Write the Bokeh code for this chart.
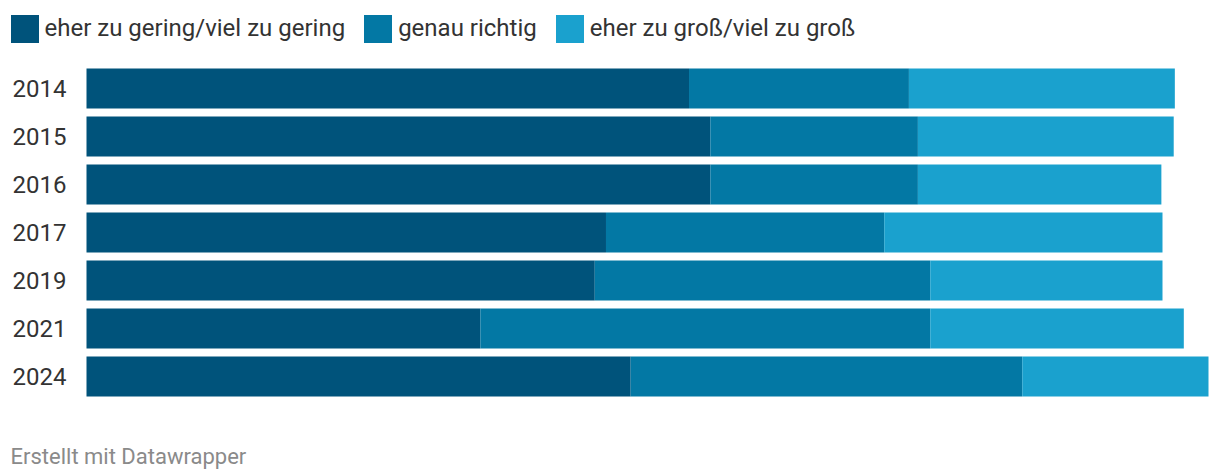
from bokeh.plotting import figure
from bokeh.models import ColumnDataSource, Range1d, Legend, Label
from bokeh.embed import file_html
from bokeh.resources import INLINE

years = ["2014", "2015", "2016", "2017", "2019", "2021", "2024"]
zu_gering = [53.7, 55.6, 55.6, 46.3, 45.3, 35.1, 48.5]
genau_richtig = [19.6, 18.5, 18.5, 24.8, 29.9, 40.1, 34.9]
zu_gross = [23.7, 22.8, 21.7, 24.8, 20.7, 22.6, 16.6]

series = ["gering", "richtig", "gross"]
labels = ["eher zu gering/viel zu gering", "genau richtig", "eher zu groß/viel zu groß"]
colors = ["#00537b", "#0378a4", "#1aa1ce"]
footer_text = "Erstellt mit Datawrapper"

# layout (pixels)
W, H = 1212, 472
bar_left, bar_full = 86, 1208      # pixel of value 0 and value 100
row_h = 48                         # pixel per row
top_center = 88                    # pixel centre of first row
n = len(years)
xs = (bar_full - bar_left) / 100.0
pos = [n - 1 - i for i in range(n)]

source = ColumnDataSource(dict(pos=pos, year=years, gering=zu_gering, richtig=genau_richtig, gross=zu_gross))

p = figure(
    width=W, height=H,
    x_range=Range1d(-bar_left / xs, 100 + (W - bar_full) / xs),
    y_range=Range1d((n - 1) - (H - top_center) / row_h, (n - 1) + top_center / row_h),
    output_backend="svg", toolbar_location=None,
    x_axis_location=None, y_axis_location=None,
    min_border=0,
)
p.outline_line_color = None
p.grid.visible = False

rs = p.hbar_stack(series, y="pos", height=40 / row_h, color=colors, line_color=None, source=source)

p.text(x=-20 / xs, y="pos", text="year", source=source,
       text_align="right", text_baseline="middle",
       text_font={"value": "Roboto"}, text_font_size="24px", text_color="#333333")

legend = Legend(
    items=[(lab, [r]) for lab, r in zip(labels, rs)],
    location=(6.5, H - 10.5 - 35),
    orientation="horizontal",
    glyph_width=35, glyph_height=35,
    label_standoff=3, spacing=15,
    padding=0, margin=0,
    label_text_font="Roboto", label_text_font_size="24px", label_text_color="#333333",
    border_line_color=None, background_fill_alpha=0,
)
p.add_layout(legend, "center")

footer = Label(
    x=10, y=H - 456, x_units="screen", y_units="screen",
    text=footer_text, text_font="Roboto", text_font_size="22px",
    text_color="#8a8a8a", text_baseline="alphabetic",
)
p.add_layout(footer)

open("out.html", "w").write(file_html(p, INLINE))
